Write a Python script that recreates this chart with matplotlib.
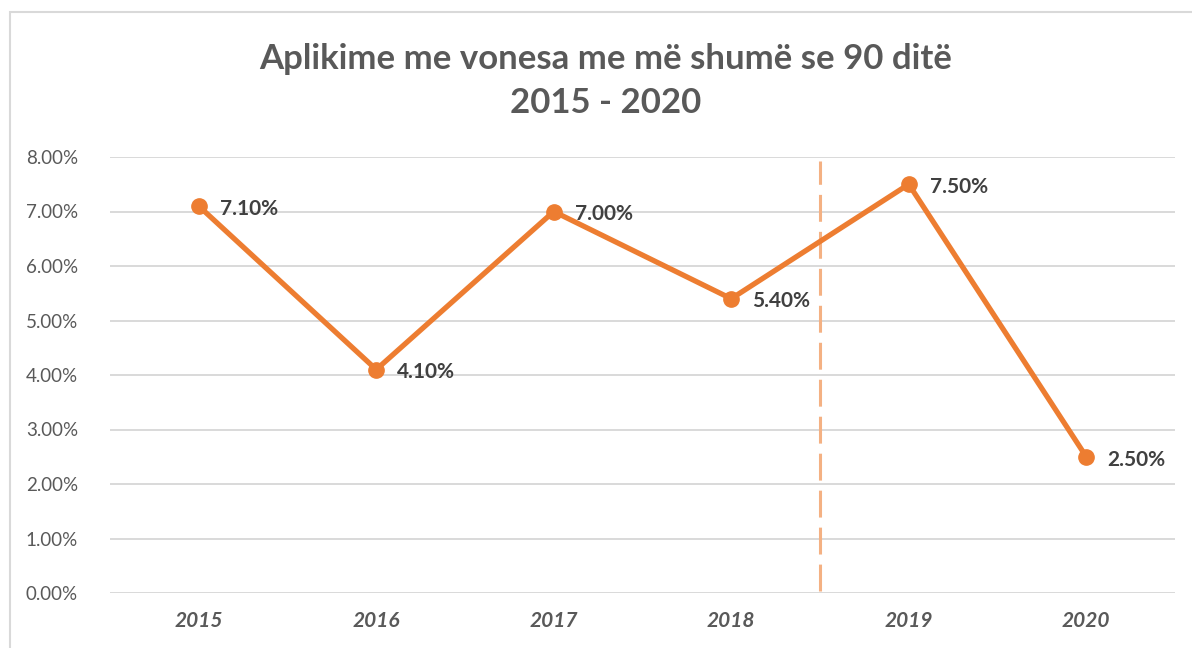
import matplotlib.pyplot as plt
from matplotlib.patches import Rectangle
from matplotlib.ticker import FuncFormatter

years = ["2015", "2016", "2017", "2018", "2019", "2020"]
values = [7.1, 4.1, 7.0, 5.4, 7.5, 2.5]
labels = ["7.10%", "4.10%", "7.00%", "5.40%", "7.50%", "2.50%"]
split_at = 3.5  # between 2018 and 2019

plt.rcParams['font.family'] = ['Lato', 'DejaVu Sans']

fig = plt.figure(figsize=(11.92, 6.48), dpi=100)
fig.patches.append(Rectangle((10 / 1192, -0.1), 1.2, 1 - 12 / 648 + 0.1,
                             transform=fig.transFigure, fill=False,
                             edgecolor="#D9D9D9", linewidth=1.5))
ax = fig.add_axes([110 / 1192, 1 - 593 / 648, 1065 / 1192, 436 / 648])

x = list(range(len(years)))
ax.plot(x, values, color="#ED7D31", linewidth=3.8, marker="o",
        markersize=11, zorder=3)
for xi, v, lab in zip(x, values, labels):
    ax.annotate(lab, (xi, v), xytext=(15, -2), textcoords="offset points",
                ha="left", va="center", fontsize=15, fontweight="bold",
                color="#404040")

ax.axvline(split_at, ymin=0.005, ymax=0.99, color="#F4B183", linewidth=2.2,
           dashes=(8.8, 3.3), zorder=2)

ax.set_xlim(-0.5, len(years) - 0.5)
ax.set_ylim(0, 8)
ax.set_yticks(range(0, 9))
ax.yaxis.set_major_formatter(FuncFormatter(lambda v, p: f"{v:.2f}%"))
ax.set_xticks(x)
ax.set_xticklabels(years, fontsize=15, fontweight="bold", style="italic",
                   color="#595959")
ax.tick_params(axis="y", labelsize=13.5, labelcolor="#595959", length=0, pad=23)
ax.tick_params(axis="x", length=0, pad=13)
ax.grid(axis="y", color="#D9D9D9", linewidth=1.4)
ax.set_axisbelow(True)
for s in ax.spines.values():
    s.set_visible(False)

fig.text(606 / 1192, 1 - 81 / 648, "Aplikime me vonesa me më shumë se 90 ditë\n2015 - 2020",
         ha="center", va="center", fontsize=25, fontweight="bold",
         color="#595959", linespacing=1.45)

fig.savefig("out.png", dpi=100)
